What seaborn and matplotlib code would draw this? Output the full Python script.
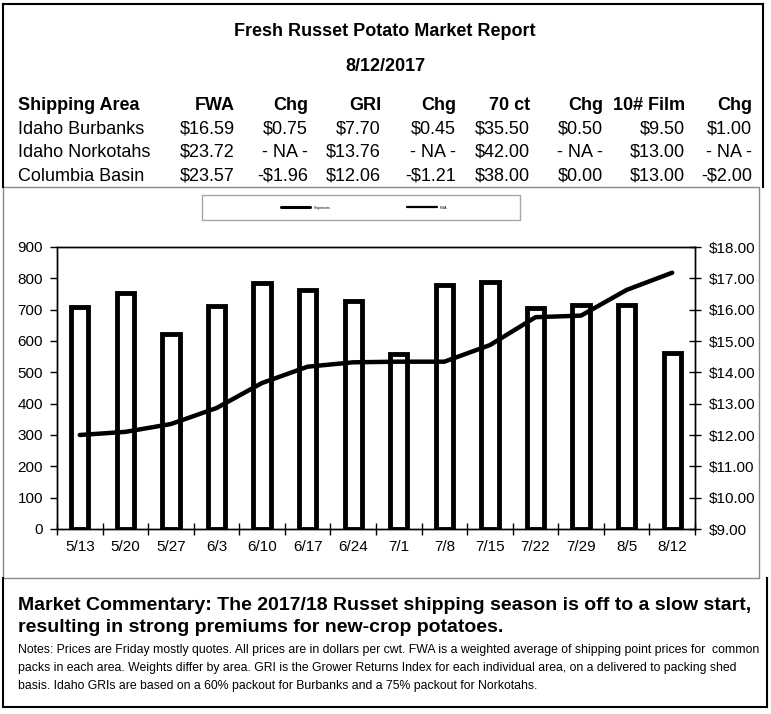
import numpy as np
import pandas as pd
import matplotlib
matplotlib.use("Agg")
import matplotlib.pyplot as plt
from matplotlib.patches import Rectangle
from matplotlib.lines import Line2D
import seaborn as sns

# ---------------- data ----------------
title = "Fresh Russet Potato Market Report"
report_date = "8/12/2017"
table_header = ["Shipping Area", "FWA", "Chg", "GRI", "Chg", "70 ct", "Chg", "10# Film", "Chg"]
areas = ["Idaho Burbanks", "Idaho Norkotahs", "Columbia Basin"]
fwa_col = ["$16.59", "$23.72", "$23.57"]
fwa_chg = ["$0.75", "- NA -", "-$1.96"]
gri_col = ["$7.70", "$13.76", "$12.06"]
gri_chg = ["$0.45", "- NA -", "-$1.21"]
ct70_col = ["$35.50", "$42.00", "$38.00"]
ct70_chg = ["$0.50", "- NA -", "$0.00"]
film_col = ["$9.50", "$13.00", "$13.00"]
film_chg = ["$1.00", "- NA -", "-$2.00"]

weeks = ["5/13", "5/20", "5/27", "6/3", "6/10", "6/17", "6/24",
         "7/1", "7/8", "7/15", "7/22", "7/29", "8/5", "8/12"]
shipments = [707, 754, 621, 712, 786, 764, 727, 559, 778, 789, 706, 714, 714, 563]
fwa_price = [12.00, 12.10, 12.35, 12.86, 13.66, 14.18, 14.32, 14.34, 14.34,
             14.87, 15.76, 15.81, 16.63, 17.18]
left_ticks = [0, 100, 200, 300, 400, 500, 600, 700, 800, 900]
right_ticks = [9, 10, 11, 12, 13, 14, 15, 16, 17, 18]
legend_labels = ["Shipments", "FWA"]

commentary = ["Market Commentary: The 2017/18 Russet shipping season is off to a slow start,",
              "resulting in strong premiums for new-crop potatoes."]
notes = ["Notes: Prices are Friday mostly quotes. All prices are in dollars per cwt. FWA is a weighted average of shipping point prices for  common",
         "packs in each area. Weights differ by area. GRI is the Grower Returns Index for each individual area, on a delivered to packing shed",
         "basis. Idaho GRIs are based on a 60% packout for Burbanks and a 75% packout for Norkotahs."]

# ---------------- style ----------------
sns.set_style("ticks")
plt.rcParams["font.family"] = ["Liberation Sans", "DejaVu Sans"]
plt.rcParams["text.color"] = "black"
plt.rcParams["xtick.color"] = "black"
plt.rcParams["ytick.color"] = "black"

W, H = 771, 714
fig = plt.figure(figsize=(W / 100, H / 100), dpi=100)
fig.patch.set_facecolor("white")


def fx(x):
    return x / W


def fy(y):
    return 1 - y / H


# frames
def fline(x0, y0, x1, y1, color="black", lw=1.5):
    fig.add_artist(Line2D([fx(x0), fx(x1)], [fy(y0), fy(y1)], transform=fig.transFigure,
                          color=color, lw=lw, solid_capstyle="projecting"))

fline(3, 4, 763, 4)
fline(3, 4, 3, 187)
fline(763, 4, 763, 187)
fline(3, 578, 3, 707)
fline(767, 578, 767, 707)
fline(3, 707, 767, 707)

fig.add_artist(Rectangle((fx(3), fy(578)), (759 - 3) / W, (578 - 187) / H,
                         transform=fig.transFigure, fill=False, edgecolor="#8a8a8a", lw=1))
fig.add_artist(Rectangle((fx(202), fy(220)), (520 - 202) / W, (220 - 195) / H,
                         transform=fig.transFigure, fill=False, edgecolor="#a8a8a8", lw=1))

# title block
fig.text(fx(385), fy(35.5), title, ha="center", va="baseline", fontsize=13, fontweight="bold")
fig.text(fx(385), fy(71), report_date, ha="center", va="baseline", fontsize=13, fontweight="bold")

# table
col_right = [235, 308, 381, 456, 530, 603, 685, 752]
header_y = 110
row_y = [133.5, 157, 181]
fig.text(fx(18), fy(header_y), table_header[0], ha="left", va="baseline", fontsize=13, fontweight="bold")
for xr, h in zip(col_right, table_header[1:]):
    fig.text(fx(xr), fy(header_y), h, ha="right", va="baseline", fontsize=13, fontweight="bold")
value_cols = [fwa_col, fwa_chg, gri_col, gri_chg, ct70_col, ct70_chg, film_col, film_chg]
for i, area in enumerate(areas):
    fig.text(fx(18), fy(row_y[i]), area, ha="left", va="baseline", fontsize=13)
    for xr, col in zip(col_right, value_cols):
        fig.text(fx(xr), fy(row_y[i]), col[i], ha="right", va="baseline", fontsize=13)

# ---------------- chart ----------------
ax = fig.add_axes([fx(57), fy(529), (695 - 57) / W, (529 - 247) / H])
df = pd.DataFrame({"week": weeks, "shipments": shipments, "fwa": fwa_price,
                   "pos": np.arange(len(weeks))})
sns.barplot(data=df, x="week", y="shipments", ax=ax, color="white", edgecolor="black",
            linewidth=3.5, width=0.38, saturation=1)
ax.set_ylim(0, 900)
ax.set_xlim(-0.5, len(weeks) - 0.5)
ax.set_yticks(left_ticks)
ax.set_yticklabels([str(t) for t in left_ticks])
ax.set_xlabel("")
ax.set_ylabel("")
ax.tick_params(axis="y", direction="out", length=5, width=1, pad=5, labelsize=11)
ax.tick_params(axis="x", which="major", length=0, pad=8, labelsize=11)
ax.set_xticks(np.arange(-0.5, len(weeks), 1), minor=True)
ax.tick_params(axis="x", which="minor", direction="inout", length=8, width=1)
for s in ax.spines.values():
    s.set_visible(True)
    s.set_color("black")
    s.set_linewidth(1)

ax2 = ax.twinx()
sns.lineplot(data=df, x="pos", y="fwa", ax=ax2, color="black", linewidth=3.2)
ax2.set_ylim(9, 18)
ax2.set_xlim(-0.5, len(weeks) - 0.5)
ax2.set_yticks(right_ticks)
ax2.set_yticklabels([f"${t:.2f}" for t in right_ticks])
ax2.set_ylabel("")
ax2.set_xlabel("")
ax2.tick_params(axis="y", direction="inout", length=8, width=1, pad=6, labelsize=11)
for s in ax2.spines.values():
    s.set_visible(True)
    s.set_color("black")
    s.set_linewidth(1)

# legend
handles = [Line2D([], [], color="black", lw=2.2), Line2D([], [], color="black", lw=1.6)]
fig.legend(handles, legend_labels, loc="center", bbox_to_anchor=(fx(364), fy(207.5)),
           ncol=2, frameon=False, fontsize=2.5, handlelength=8.6, columnspacing=22,
           handletextpad=0.9, borderaxespad=0, borderpad=0)

# commentary & notes
fig.text(fx(18), fy(609.5), commentary[0], ha="left", va="baseline", fontsize=14, fontweight="bold")
fig.text(fx(18), fy(632.5), commentary[1], ha="left", va="baseline", fontsize=14, fontweight="bold")
for i, line in enumerate(notes):
    fig.text(fx(18), fy(653.5 + 17.5 * i), line, ha="left", va="baseline", fontsize=8.8)

fig.savefig("out.png", dpi=100, facecolor="white")
